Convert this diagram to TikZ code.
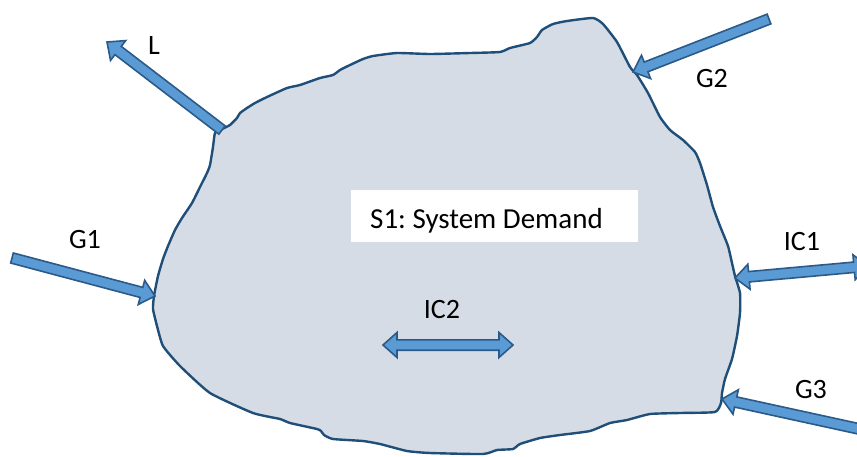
\documentclass[tikz,border=0pt]{standalone}
\usepackage{fontspec}
\setmainfont{Carlito}
\usetikzlibrary{calc}
\frenchspacing
\definecolor{blobfill}{HTML}{D6DCE5}
\definecolor{blobline}{HTML}{1F4E79}
\definecolor{arrfill}{HTML}{5B9BD5}
\definecolor{arrline}{HTML}{2B5A88}
\newcommand{\SW}{5.2pt}
\newcommand{\HW}{12.5pt}
\newcommand{\HL}{14pt}
\newcommand{\blockarrow}[2]{%
  \coordinate (#1b) at ($(#2)!\HL!(#1)$);
  \draw[blockarr] ($(#1)!\SW!90:(#2)$) -- ($(#1b)!\SW!-90:(#1)$) -- ($(#1b)!\HW!-90:(#1)$) -- (#2) -- ($(#1b)!\HW!90:(#1)$) -- ($(#1b)!\SW!90:(#1)$) -- ($(#1)!\SW!-90:(#2)$) -- cycle;}
\newcommand{\dblockarrow}[2]{%
  \coordinate (#1b) at ($(#1)!\HL!(#2)$);
  \coordinate (#2b) at ($(#2)!\HL!(#1)$);
  \draw[blockarr] (#1) -- ($(#1b)!\HW!90:(#2)$) -- ($(#1b)!\SW!90:(#2)$) -- ($(#2b)!\SW!-90:(#1)$) -- ($(#2b)!\HW!-90:(#1)$) -- (#2) -- ($(#2b)!\HW!90:(#1)$) -- ($(#2b)!\SW!90:(#1)$) -- ($(#1b)!\SW!-90:(#2)$) -- ($(#1b)!\HW!-90:(#2)$) -- cycle;}
\begin{document}
\begin{tikzpicture}[x=1pt,y=-1pt,
  blockarr/.style={fill=arrfill, draw=arrline, line width=1.6pt, line join=miter},
  blob/.style={fill=blobfill, draw=blobline, line width=2.4pt, line join=round},
  lbl/.style={inner sep=0pt, font=\fontsize{28}{34}\selectfont}]
\useasboundingbox (0,0) rectangle (857,456);
% system area
\draw[blob] plot[smooth cycle, tension=0.3] coordinates {
 (222,129) (230,125) (237,118) (240,113) (247,108) (255,103) (267,97) (287,88) (300,85) (320,78) (333,75) (340,70) (350,65) (363,59) (373,56) (397,53) (430,54) (470,53) (500,52) (510,48) (530,43) (537,37) (542,30) (553,24) (567,21) (593,18) (603,24) (617,42) (630,67) (637,75) (648,93) (660,117) (670,130) (683,140) (695,152) (700,163) (707,185) (713,207) (720,226) (728,246) (732,263) (735,276) (740,293) (740,313) (737,336) (732,359) (725,379) (722,393) (721,403) (715,412) (680,413) (650,414) (627,420) (610,423) (590,431) (560,435) (540,438) (520,444) (513,449) (497,450) (483,454) (430,453) (407,451) (380,444) (363,441) (333,439) (324,435) (321,431) (317,429) (290,423) (280,419) (253,413) (210,393) (180,366) (163,346) (157,326) (153,309) (154,296) (158,276) (163,259) (168,246) (175,230) (182,218) (192,203) (200,187) (207,173) (210,165) (213,147) (215,133)};
% title box
\fill[white] (351,190) rectangle (638,242);
\node[anchor=base west, inner sep=0pt, font=\fontsize{29}{35}\selectfont] (s1) at (370,228) {S1: System Demand};
% arrow end points
\coordinate (Ltail) at (222,130);   \coordinate (Ltip) at (107,42);
\coordinate (Gtwotail) at (769,19); \coordinate (Gtwotip) at (633,72);
\coordinate (Gonetail) at (12,258); \coordinate (Gonetip) at (155,296);
\coordinate (IConeA) at (735,278);  \coordinate (IConeB) at (868,266);
\coordinate (Gthreetail) at (864,430); \coordinate (Gthreetip) at (722,399);
\coordinate (ICtwoA) at (383,345);  \coordinate (ICtwoB) at (513,345);
% arrows
\blockarrow{Ltail}{Ltip}
\blockarrow{Gtwotail}{Gtwotip}
\blockarrow{Gonetail}{Gonetip}
\blockarrow{Gthreetail}{Gthreetip}
\dblockarrow{IConeA}{IConeB}
\dblockarrow{ICtwoA}{ICtwoB}
% labels
\node[lbl] (lL) at (154,46) {L};
\node[lbl] (lG2) at (712,79) {G2};
\node[lbl] (lG1) at (85,240) {G1};
\node[lbl] (lIC1) at (802,242) {IC1};
\node[lbl] (lG3) at (811,390) {G3};
\node[lbl] (lIC2) at (442,310) {IC2};
\end{tikzpicture}
\end{document}
